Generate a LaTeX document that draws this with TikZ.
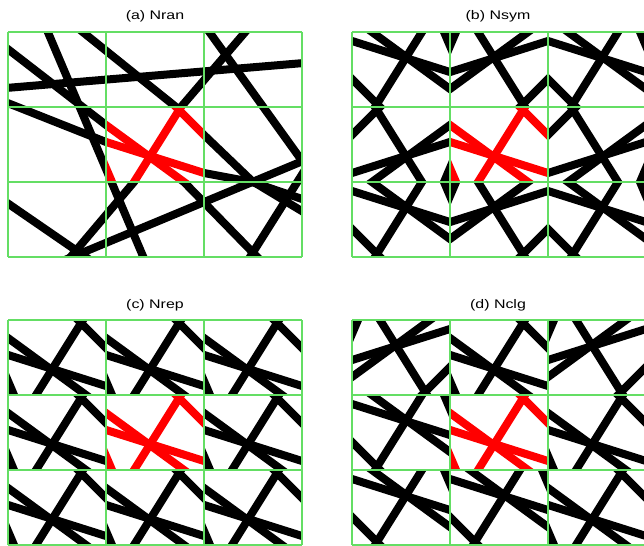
\documentclass[tikz,border=0pt]{standalone}
\usepackage{fontspec}
\setmainfont{Liberation Sans}

\definecolor{gridgreen}{RGB}{100,222,100}
\tikzset{
  fibre/.style={line width=8bp},
  cellgrid/.style={gridgreen, line width=1.3bp},
  paneltitle/.style={font=\fontsize{12.5}{14}\selectfont, xscale=1.28, anchor=base},
}
\newcommand{\cw}{98}
\newcommand{\ch}{75}

% fibres of the unit cell, origin at its top left corner, y pointing down
\newcommand{\unitfibres}[1]{%
  \draw[fibre,#1] (87.5,-20) -- (15.5,95);
  \draw[fibre,#1] (60,-10) -- (110,40);
  \draw[fibre,#1] (-10,31.8) -- (110,69.8);
  \draw[fibre,#1] (-10,10.7) -- (92,85.2);
  \draw[fibre,#1] (-58,-75) -- (38,150);
}
% one cell with corner (#1,#2), mirrored by #3 in x and #4 in y
\newcommand{\fibrecell}[5]{%
  \begin{scope}[shift={(#1,#2)}]
    \clip (0,0) rectangle (\cw,\ch);
    \begin{scope}[shift={(\cw/2,\ch/2)}, xscale=#3, yscale=#4, shift={(-\cw/2,-\ch/2)}]
      \unitfibres{#5}
    \end{scope}
  \end{scope}}
% 3x3 green grid with corner (#1,#2)
\newcommand{\cellgrid}[2]{%
  \foreach \i in {0,...,3} {
    \draw[cellgrid] (#1+\i*\cw,#2) -- ++(0,3*\ch);
    \draw[cellgrid] (#1,#2+\i*\ch) -- ++(3*\cw,0);
  }}

\begin{document}
\begin{tikzpicture}[x=1bp,y=-1bp]
\fill[white] (0,0) rectangle (644,546);
\useasboundingbox (0,0) rectangle (644,546);

% (a) random network
\begin{scope}
  \clip (8,32) rectangle ++(3*\cw,3*\ch);
  \draw[fibre] (0,88.5) -- (310,62.5);
  \draw[fibre] (44,23) -- (148,268);
  \draw[fibre] (-2,41.5) -- (106,125) -- (184,182) -- (266,266);
  \draw[fibre] (247,30) -- (181,107) -- (134,182) -- (68,260);
  \draw[fibre] (79,29) -- (176,107) -- (204,135) -- (252,181) -- (305,213);
  \draw[fibre] (0,100) -- (106,142) -- (204,173) -- (252,182) -- (305,200);
  \draw[fibre] (205,26) -- (305,165);
  \draw[fibre] (60,262) -- (310,158);
  \draw[fibre] (0,198) -- (93,262);
  \draw[fibre] (245,265) -- (308,165);
  \fill[white] (106,107) rectangle ++(\cw,\ch);
\end{scope}
\fibrecell{106}{107}{1}{1}{red}
\cellgrid{8}{32}

% (b) mirrored cells
\foreach \c/\r/\sx/\sy/\col in {0/0/-1/-1/black, 1/0/1/-1/black, 2/0/-1/-1/black,
    0/1/-1/1/black, 1/1/1/1/red, 2/1/-1/1/black,
    0/2/-1/-1/black, 1/2/1/-1/black, 2/2/-1/-1/black} {
  \fibrecell{352+\c*\cw}{32+\r*\ch}{\sx}{\sy}{\col}
}
\cellgrid{352}{32}

% (c) repeated cells
\foreach \c/\r/\col in {0/0/black, 1/0/black, 2/0/black,
    0/1/black, 1/1/red, 2/1/black,
    0/2/black, 1/2/black, 2/2/black} {
  \fibrecell{8+\c*\cw}{320+\r*\ch}{1}{1}{\col}
}
\cellgrid{8}{320}

% (d) cells turned at random
\foreach \c/\r/\sx/\sy/\col in {0/0/1/-1/black, 1/0/1/1/black, 2/0/1/-1/black,
    0/1/-1/-1/black, 1/1/1/1/red, 2/1/1/1/black,
    0/2/-1/-1/black, 1/2/-1/-1/black, 2/2/1/1/black} {
  \fibrecell{352+\c*\cw}{320+\r*\ch}{\sx}{\sy}{\col}
}
\cellgrid{352}{320}

\node[paneltitle] (titleA) at (155,20) {(a) Nran};
\node[paneltitle] (titleB) at (498,20) {(b) Nsym};
\node[paneltitle] (titleC) at (155,308.5) {(c) Nrep};
\node[paneltitle] (titleD) at (498,308.5) {(d) Nclg};
\end{tikzpicture}
\end{document}
